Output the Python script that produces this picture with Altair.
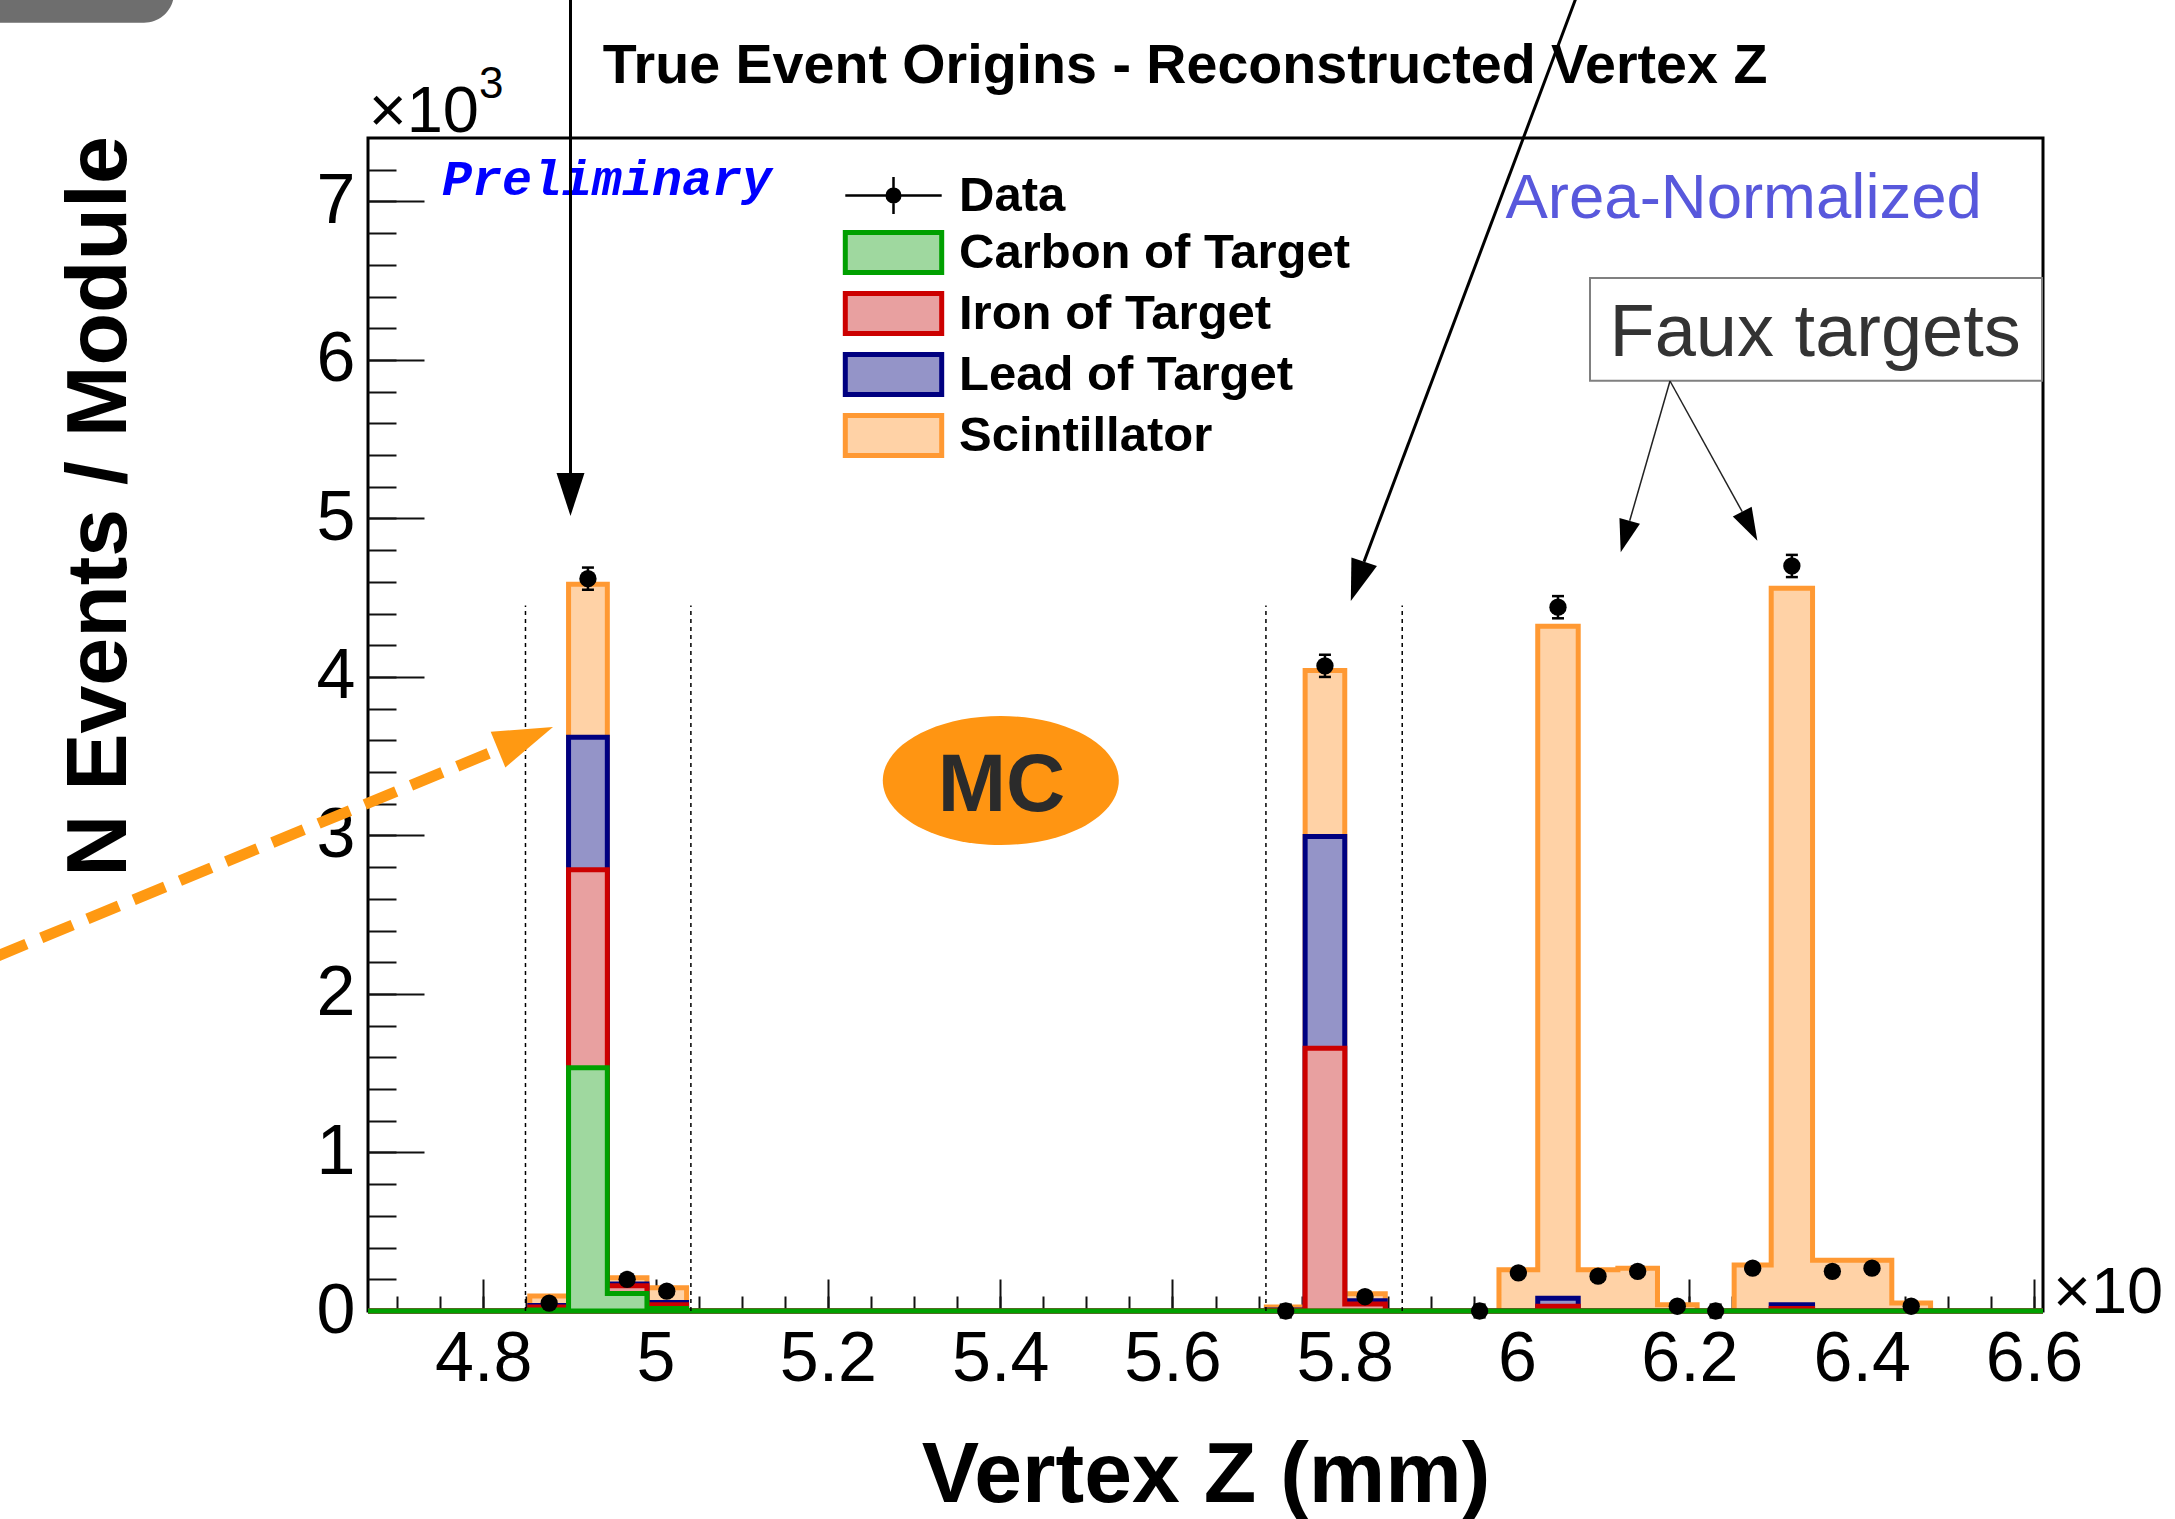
import altair as alt
import pandas as pd

# ---------------- data (units of 10^3) ----------------
components = ["Carbon of Target", "Iron of Target", "Lead of Target", "Scintillator"]
stroke_colors = ["#00A000", "#CC0000", "#000080", "#FF9933"]
fill_colors = ["#9FD89F", "#E8A0A0", "#9494C8", "#FFD2A6"]

bin_lo = [4.854, 4.899, 4.944, 4.990, 5.709, 5.754, 5.800, 5.934, 5.979, 6.024,
          6.071, 6.117, 6.163, 6.209, 6.252, 6.295, 6.343, 6.389, 6.435]
bin_hi = [4.899, 4.944, 4.990, 5.036, 5.754, 5.800, 5.847, 5.979, 6.024, 6.071,
          6.117, 6.163, 6.209, 6.252, 6.295, 6.343, 6.389, 6.435, 6.480]
carbon = [0.006, 1.534, 0.110, 0.016, 0.0, 0.0, 0.0, 0.0, 0.0, 0.0,
          0.0, 0.0, 0.0, 0.0, 0.0, 0.0, 0.0, 0.0, 0.0]
iron = [0.019, 1.249, 0.050, 0.024, 0.003, 1.657, 0.044, 0.0, 0.0, 0.030,
        0.0, 0.0, 0.0, 0.0, 0.0, 0.015, 0.0, 0.0, 0.0]
lead = [0.009, 0.837, 0.010, 0.013, 0.003, 1.337, 0.021, 0.0, 0.0, 0.050,
        0.0, 0.0, 0.0, 0.0, 0.0, 0.025, 0.0, 0.0, 0.0]
scint = [0.060, 0.965, 0.040, 0.094, 0.020, 1.047, 0.044, 0.0, 0.260, 4.240,
         0.260, 0.270, 0.040, 0.0, 0.290, 4.520, 0.320, 0.320, 0.050]
data_val = [0.05, 4.62, 0.20, 0.125, 0.0, 4.07, 0.09, 0.0, 0.24, 4.44,
            0.22, 0.25, 0.03, 0.0, 0.27, 4.70, 0.25, 0.27, 0.03]
data_err = [0.015, 0.07, 0.02, 0.02, 0.04, 0.07, 0.015, 0.04, 0.02, 0.07,
            0.02, 0.02, 0.01, 0.04, 0.02, 0.07, 0.02, 0.02, 0.01]
cut_x = [4.849, 5.041, 5.7085, 5.8667]
cut_top = 4.45

major_x = [4.8, 5.0, 5.2, 5.4, 5.6, 5.8, 6.0, 6.2, 6.4, 6.6]
minor_x = [round(4.70 + 0.05 * i, 2) for i in range(39)]
major_y = [0, 1, 2, 3, 4, 5, 6, 7]
minor_y = [round(0.2 * i, 1) for i in range(1, 37)]

X_MIN, X_MAX = 4.6662, 6.6105
Y_MAX = 7.40

title_text = "True Event Origins - Reconstructed Vertex Z"
x_title = "Vertex Z (mm)"
y_title = "N Events / Module"
notes = {"prelim": "Preliminary", "norm": "Area-Normalized", "faux": "Faux targets", "mc": "MC"}

# ---------------- layout ----------------
PL, PT, W, H = 368, 138, 1675, 1173
PR, PB = 2175 - PL - W, 1519 - PT - H
FONT = "Liberation Sans"


def px(v):
    return v - PL


def py(v):
    return v - PT


# ---------------- tables ----------------
cum = {
    "Carbon of Target": carbon,
    "Iron of Target": [a + b for a, b in zip(carbon, iron)],
    "Lead of Target": [a + b + c for a, b, c in zip(carbon, iron, lead)],
    "Scintillator": [a + b + c + d for a, b, c, d in zip(carbon, iron, lead, scint)],
}
rows = []
for name, vals in cum.items():
    prev = None
    pts = []
    for lo, hi, v in zip(bin_lo, bin_hi, vals):
        if prev is None:
            pts.append((X_MIN, 0.0))
        elif lo > prev + 1e-9:
            pts.append((prev, 0.0))
        pts.append((lo, v))
        prev = hi
    pts.append((prev, 0.0))
    pts.append((X_MAX, 0.0))
    for x, y in pts:
        rows.append({"series": name, "x": x, "y": y})
step_df = pd.DataFrame(rows)

pts_df = pd.DataFrame({
    "x": [(a + b) / 2 for a, b in zip(bin_lo, bin_hi)],
    "y": data_val,
    "lo": [v - e for v, e in zip(data_val, data_err)],
    "hi": [v + e for v, e in zip(data_val, data_err)],
})
cut_df = pd.DataFrame({"x": cut_x, "y0": [0.0] * len(cut_x), "y1": [cut_top] * len(cut_x)})
one = pd.DataFrame({"a": [0]})

xscale = alt.Scale(domain=[X_MIN, X_MAX], nice=False, zero=False)
yscale = alt.Scale(domain=[0, Y_MAX], nice=False, zero=False)
fill_scale = alt.Scale(domain=components, range=fill_colors)
stroke_scale = alt.Scale(domain=components, range=stroke_colors)

BOX_PATH = "M-2.41,-1H2.41V1H-2.41Z"
DATA_PATH = ("M-2.41,0H2.41M0,-0.93V0.93M-0.34,0A0.34,0.34,0,1,1,0.34,0"
             "A0.34,0.34,0,1,1,-0.34,0Z")
ARROW_PATH = "M0,1L-0.65,-1L0.65,-1Z"
ELLIPSE_PATH = "M-1,0A1,0.547,0,1,1,1,0A1,0.547,0,1,1,-1,0Z"

leg_common = dict(orient="none", title=None, padding=0, labelFont=FONT, labelFontSize=49,
                  labelFontWeight="bold", labelColor="black", labelLimit=0,
                  symbolSize=1600, labelOffset=41, rowPadding=0)
fill_legend = alt.Legend(legendX=501, legendY=90, symbolType=BOX_PATH, symbolStrokeWidth=5,
                         **leg_common)
data_legend = alt.Legend(legendX=501, legendY=33, symbolStrokeWidth=2.5, symbolOpacity=1,
                         **leg_common)

TICK = dict(domain=False, grid=False, tickColor="#111111", tickWidth=2, labelFlush=False,
            labelOverlap=False)
ax_x_major = alt.Axis(orient="bottom", values=major_x, tickSize=32, offset=-32,
                      labelFont=FONT, labelFontSize=70, labelColor="black", labelPadding=14,
                      labelExpr="format(datum.value, '.1~f')",
                      title=x_title, titleFont=FONT, titleFontSize=86, titleFontWeight="bold",
                      titleColor="black", titleY=222, titleBaseline="alphabetic", **TICK)
ax_x_minor = alt.Axis(orient="bottom", values=minor_x, tickSize=15, offset=-15, labels=False,
                      title=None, **TICK)
ax_y_major = alt.Axis(orient="left", values=major_y, tickSize=56, offset=-56,
                      labelFont=FONT, labelFontSize=70, labelColor="black", labelPadding=13,
                      format="d",
                      title=y_title, titleFont=FONT, titleFontSize=86, titleFontWeight="bold",
                      titleColor="black", titleAngle=270, titleX=-299, titleY=368,
                      titleBaseline="alphabetic", titleAlign="center", **TICK)
ax_y_minor = alt.Axis(orient="left", values=minor_y, tickSize=28, offset=-28, labels=False,
                      title=None, **TICK)


def level(name, xaxis, yaxis):
    return alt.Chart(step_df).transform_filter(alt.datum.series == name).mark_area(
        interpolate="step-after", strokeWidth=5, fillOpacity=1, opacity=1
    ).encode(
        x=alt.X("x:Q", scale=xscale, axis=xaxis),
        y=alt.Y("y:Q", scale=yscale, axis=yaxis, stack=None),
        fill=alt.Fill("series:N", scale=fill_scale, legend=fill_legend),
        stroke=alt.Stroke("series:N", scale=stroke_scale, legend=fill_legend),
    )


layers = [
    level("Scintillator", ax_x_major, ax_y_major),
    level("Lead of Target", ax_x_minor, ax_y_minor),
    level("Iron of Target", None, None),
    level("Carbon of Target", None, None),
]

layers.append(alt.Chart(cut_df).mark_rule(color="black", strokeWidth=1.5, strokeDash=[4, 4]).encode(
    x=alt.X("x:Q", scale=xscale, axis=None),
    y=alt.Y("y0:Q", scale=yscale, axis=None), y2="y1:Q"))

layers.append(alt.Chart(pts_df).mark_rule(color="black", strokeWidth=2.5).encode(
    x=alt.X("x:Q", scale=xscale, axis=None),
    y=alt.Y("lo:Q", scale=yscale, axis=None), y2="hi:Q"))
for col in ["lo", "hi"]:
    layers.append(alt.Chart(pts_df).mark_point(shape="stroke", size=144, filled=False, color="black",
                                               strokeWidth=2.5, opacity=1).encode(
        x=alt.X("x:Q", scale=xscale, axis=None),
        y=alt.Y(f"{col}:Q", scale=yscale, axis=None)))
layers.append(alt.Chart(pts_df).mark_point(shape="circle", size=300, filled=True, color="black",
                                           opacity=1).encode(
    x=alt.X("x:Q", scale=xscale, axis=None),
    y=alt.Y("y:Q", scale=yscale, axis=None)))

# legend entry for the data points (layer with no drawn marks)
layers.append(alt.Chart(pd.DataFrame({"series": ["Data"]})).transform_filter(
    alt.datum.series == "none").mark_point(filled=False, color="black", fill="black",
                                           stroke="black", strokeWidth=2.5, size=1600,
                                           opacity=1).encode(
    shape=alt.Shape("series:N", scale=alt.Scale(domain=["Data"], range=[DATA_PATH]),
                    legend=data_legend)))


# ---------------- annotations ----------------
def seg(x1, y1, x2, y2, color, width, dash=None):
    kw = dict(color=color, strokeWidth=width)
    if dash:
        kw["strokeDash"] = dash
    return alt.Chart(one).mark_rule(**kw).encode(
        x=alt.value(px(x1)), y=alt.value(py(y1)), x2=alt.value(px(x2)), y2=alt.value(py(y2)))


def head(x, y, size, angle, color):
    return alt.Chart(one).mark_point(shape=ARROW_PATH, filled=True, color=color, size=size,
                                     angle=angle, opacity=1, strokeWidth=0).encode(
        x=alt.value(px(x)), y=alt.value(py(y)))


def label(text, x, y, size, color="black", weight="normal", align="left", font=FONT, style=None):
    kw = dict(text=text, font=font, fontSize=size, fontWeight=weight, color=color, align=align,
              baseline="alphabetic")
    if style:
        kw["fontStyle"] = style
    return alt.Chart(one).mark_text(**kw).encode(x=alt.value(px(x)), y=alt.value(py(y)))


layers += [
    alt.Chart(one).mark_rect(color="#6E6E6E", cornerRadius=30).encode(
        x=alt.value(px(-60)), x2=alt.value(px(174)), y=alt.value(py(-60)), y2=alt.value(py(22.7))),
    label(title_text, 1185, 83, 55.6, weight="bold", align="center"),
    label("\u00d710", 368.75, 131.7, 65),
    label("3", 479, 98, 44),
    label("\u00d710", 2053, 1313, 65),
    label(notes["prelim"], 442, 195, 50, color="#0000FF", weight="bold", font="Liberation Mono",
          style="italic"),
    label(notes["norm"], 1505.5, 218, 63.5, color="#5858DC"),
    alt.Chart(one).mark_rect(fill="white", stroke="#808080", strokeWidth=2).encode(
        x=alt.value(px(1590)), x2=alt.value(px(2042)), y=alt.value(py(278)), y2=alt.value(py(380.7))),
    label(notes["faux"], 1609.5, 356, 74, color="#333333"),
    seg(1670, 381, 1629.7, 520.8, "#222222", 1.5),
    head(1625.2, 536.6, 1076, 15.9, "black"),
    seg(1670, 381, 1742.2, 511.7, "#222222", 1.5),
    head(1749.8, 526.2, 1070, 332.5, "black"),
    seg(570.5, -10, 570.5, 476, "black", 3),
    head(570.5, 494.5, 1849, 0, "black"),
    seg(1579, -10, 1364, 561.7, "black", 3),
    head(1357.5, 581.4, 1722, 18.8, "black"),
    seg(-5, 957, 498, 749.5, "#FF9912", 11, [34, 16]),
    head(525.5, 738.3, 3528, 247.7, "#FF9912"),
    alt.Chart(one).mark_point(shape=ELLIPSE_PATH, filled=True, color="#FF9512", size=236 ** 2,
                              opacity=1, strokeWidth=0).encode(
        x=alt.value(px(1000.8)), y=alt.value(py(780.5))),
    label(notes["mc"], 1001.5, 810.7, 82, color="#2B2B2B", weight="bold", align="center"),
]

chart = alt.layer(*layers).resolve_axis(x="independent", y="independent").properties(
    width=W, height=H,
    padding={"left": PL, "top": PT, "right": PR, "bottom": PB},
    autosize=alt.AutoSizeParams(type="none"),
    background="white",
).configure_view(stroke="black", strokeWidth=3)

chart.save("out.html", embed_options={"renderer": "svg", "actions": False})
